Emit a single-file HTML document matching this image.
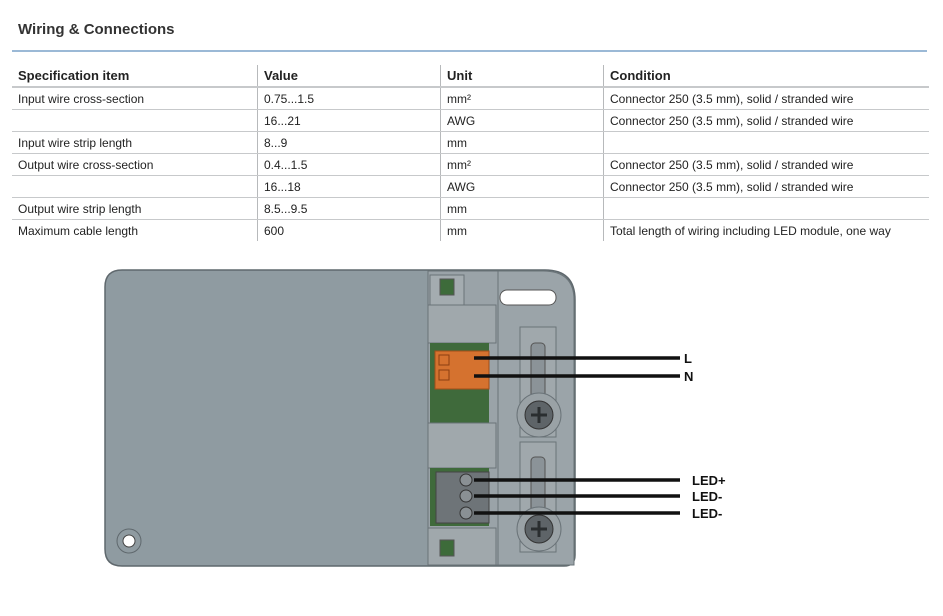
<!DOCTYPE html>
<html><head><meta charset="utf-8"><style>
body{margin:0;width:943px;height:616px;background:#fff;font-family:"Liberation Sans",sans-serif;color:#222;position:relative;overflow:hidden}
.t{position:absolute;left:18px;top:21px;font-size:15px;font-weight:bold;color:#333}
.hr{position:absolute;left:12px;top:50px;width:915px;height:2px;background:#9bb9d6}
table{position:absolute;left:12px;top:65px;border-collapse:collapse;font-size:12px}
td,th{height:21px;padding:0 6px;text-align:left;white-space:nowrap;border-bottom:1px solid #c7c9cb}
th{font-size:13px;font-weight:bold;height:21px;border-bottom:2px solid #c7c9cb}
td:nth-child(n+2),th:nth-child(n+2){border-left:1px solid #b7b9bb}
tr:last-child td{border-bottom:none}
</style></head><body>
<div class="t">Wiring &amp; Connections</div><div class="hr"></div>
<table>
<tr><th style="width:233px">Specification item</th><th style="width:170px">Value</th><th style="width:150px">Unit</th><th style="width:313px">Condition</th></tr>
<tr><td>Input wire cross-section</td><td>0.75...1.5</td><td>mm²</td><td>Connector 250 (3.5 mm), solid / stranded wire</td></tr>
<tr><td></td><td>16...21</td><td>AWG</td><td>Connector 250 (3.5 mm), solid / stranded wire</td></tr>
<tr><td>Input wire strip length</td><td>8...9</td><td>mm</td><td></td></tr>
<tr><td>Output wire cross-section</td><td>0.4...1.5</td><td>mm²</td><td>Connector 250 (3.5 mm), solid / stranded wire</td></tr>
<tr><td></td><td>16...18</td><td>AWG</td><td>Connector 250 (3.5 mm), solid / stranded wire</td></tr>
<tr><td>Output wire strip length</td><td>8.5...9.5</td><td>mm</td><td></td></tr>
<tr><td>Maximum cable length</td><td>600</td><td>mm</td><td>Total length of wiring including LED module, one way</td></tr>
</table>
<svg width="943" height="616" style="position:absolute;left:0;top:0">
<path d="M122 270 H545 Q575 270 575 300 V555 Q575 566 564 566 H122 Q105 566 105 549 V287 Q105 270 122 270Z" fill="#8f9ba1" stroke="#5f686d" stroke-width="1.5"/>
<rect x="428" y="271" width="70" height="294" fill="#9aa3a8" stroke="#6a7378"/>
<path d="M498 271 H543 Q574 271 574 300 V565 H498Z" fill="#9ba4a9" stroke="#6a7378"/>
<rect x="500" y="290" width="56" height="15" rx="7" fill="#fff" stroke="#555"/>
<rect x="430" y="275" width="34" height="30" fill="#a4acb0" stroke="#6a7378"/>
<rect x="440" y="279" width="14" height="16" fill="#3d6b3a" stroke="#555"/>
<rect x="428" y="305" width="68" height="38" fill="#a0a8ac" stroke="#6a7378"/>
<rect x="430" y="343" width="59" height="80" fill="#3f6a3b"/>
<rect x="435" y="351" width="54" height="38" fill="#d5722f" stroke="#a04d1a"/>
<rect x="439" y="355" width="10" height="10" fill="none" stroke="#8b3f10"/>
<rect x="439" y="370" width="10" height="10" fill="none" stroke="#8b3f10"/>
<rect x="428" y="423" width="68" height="45" fill="#a0a8ac" stroke="#6a7378"/>
<rect x="430" y="468" width="59" height="58" fill="#3f6a3b"/>
<rect x="436" y="472" width="53" height="51" fill="#6e7478" stroke="#444"/>
<circle cx="466" cy="480" r="6" fill="#8a9094" stroke="#333"/><circle cx="466" cy="496" r="6" fill="#8a9094" stroke="#333"/><circle cx="466" cy="513" r="6" fill="#8a9094" stroke="#333"/>
<rect x="428" y="528" width="68" height="37" fill="#a0a8ac" stroke="#6a7378"/>
<rect x="440" y="540" width="14" height="16" fill="#3d6b3a" stroke="#555"/>
<rect x="520" y="327" width="36" height="110" fill="#a0a8ac" stroke="#6a7378"/>
<rect x="531" y="343" width="14" height="75" rx="4" fill="#8b9398" stroke="#555"/>
<rect x="520" y="442" width="36" height="110" fill="#a0a8ac" stroke="#6a7378"/>
<rect x="531" y="457" width="14" height="70" rx="4" fill="#8b9398" stroke="#555"/>
<circle cx="539" cy="415" r="22" fill="#9aa2a6" stroke="#6a7378"/><circle cx="539" cy="415" r="14" fill="#5e6468" stroke="#333"/>
<path d="M531 415h16M539 407v16" stroke="#2a2e30" stroke-width="3"/>
<circle cx="539" cy="529" r="22" fill="#9aa2a6" stroke="#6a7378"/><circle cx="539" cy="529" r="14" fill="#5e6468" stroke="#333"/>
<path d="M531 529h16M539 521v16" stroke="#2a2e30" stroke-width="3"/>
<circle cx="129" cy="541" r="12" fill="none" stroke="#5f686d"/><circle cx="129" cy="541" r="6" fill="#fff" stroke="#444"/>
<g stroke="#111" stroke-width="3.5">
<path d="M474 358H680M474 376H680M474 480H680M474 496H680M474 513H680"/></g>
<g font-family="Liberation Sans" font-weight="bold" font-size="13" fill="#111">
<text x="684" y="363">L</text><text x="684" y="381">N</text>
<text x="692" y="485">LED+</text><text x="692" y="501">LED-</text><text x="692" y="518">LED-</text></g>
</svg>
</body></html>
